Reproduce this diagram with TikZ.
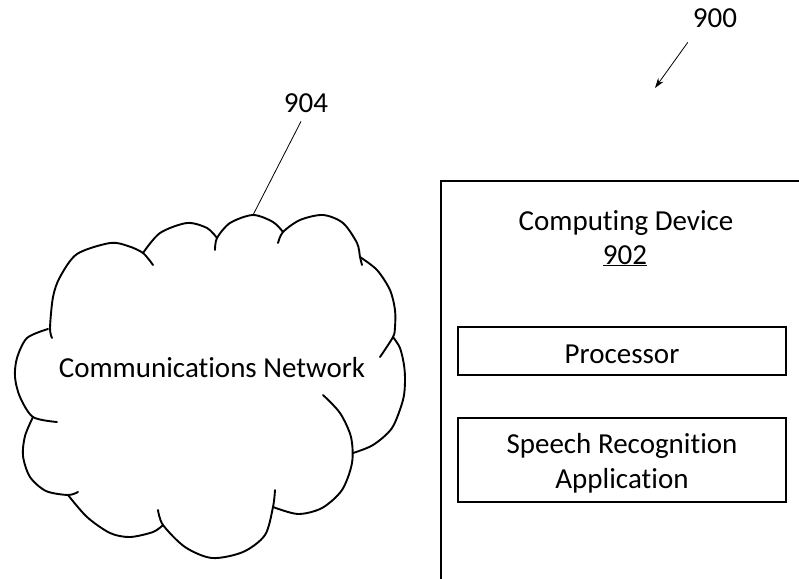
\documentclass[tikz,border=0pt]{standalone}
\usepackage{fontspec}
\setmainfont{Carlito}[Ligatures=NoCommon]
\usetikzlibrary{arrows.meta}
\begin{document}
\begin{tikzpicture}[x=1pt,y=-1pt,
  txt/.style={font=\fontsize{29}{35}\selectfont, inner sep=0pt, anchor=base},
  lobe/.style={line width=1.9pt, line cap=round},
  box/.style={draw, line width=1.1pt, inner sep=0pt},
  devbox/.style={draw, line width=1.4pt, inner sep=0pt},
  lead/.style={line width=0.8pt}]
\useasboundingbox (0,0) rectangle (799,578);
% cloud lobes
\draw[lobe] plot[smooth] coordinates {(57,422) (33,417) (20,397) (15,377) (17,358) (27,338) (48,329)};
\draw[lobe] plot[smooth] coordinates {(52,338) (50,328) (53,297) (60,277) (77,254) (110,243) (128,246) (143,253) (153,265)};
\draw[lobe] plot[smooth] coordinates {(143,253) (160,233) (187,223) (207,228) (217,238)};
\draw[lobe] plot[smooth] coordinates {(215,250) (217,238) (230,223) (253,215) (273,222) (283,232)};
\draw[lobe] plot[smooth] coordinates {(278,243) (283,232) (300,220) (323,215) (343,223) (357,243) (360,257) (362,265)};
\draw[lobe] plot[smooth] coordinates {(360,257) (377,270) (390,290) (395,310) (395,327) (393,337) (380,357)};
\draw[lobe] plot[smooth] coordinates {(393,337) (400,348) (404,365) (405,381) (403,400) (392,428) (373,445) (353,453)};
\draw[lobe] plot[smooth] coordinates {(323,395) (340,413) (351,437) (352,463) (342,490) (322,508) (298,514) (273,507)};
\draw[lobe] plot[smooth] coordinates {(275,490) (273,507) (265,535) (243,552) (212,558) (185,547) (163,525) (158,510)};
\draw[lobe] plot[smooth] coordinates {(163,525) (153,532) (130,537) (110,533) (87,517) (68,495)};
\draw[lobe] plot[smooth] coordinates {(78,492) (68,495) (46,491) (30,477) (23,456) (25,436) (33,417)};
\node[txt] (netlbl) at (212,377) {Communications Network};
\coordinate (c904) at (253,215);
% computing device
\node[devbox, minimum width=400, minimum height=430] (dev) at (641,396) {};
\node[txt] (devlbl) at (626,230) {Computing Device};
\node[txt] (devnum) at (625,264) {\underline{902}};
\node[box, minimum width=328, minimum height=48] (proc) at (622,351) {};
\node[txt] (proclbl) at (622,363) {Processor};
\node[box, minimum width=328, minimum height=84] (app) at (622,460) {};
\node[txt] (applbl1) at (622,453) {Speech Recognition};
\node[txt] (applbl2) at (622,488) {Application};
% reference labels
\node[txt] (l900) at (715,28) {900};
\node[txt] (l904) at (306,112) {904};
\coordinate (t900) at (655,88);
\draw[lead,-{Stealth[length=10pt,width=6.5pt]}] ([shift={(-5,14)}]l900.south west) -- (t900);
\draw[lead] ([shift={(-5,9)}]l904.south) -- (c904);
\end{tikzpicture}
\end{document}
